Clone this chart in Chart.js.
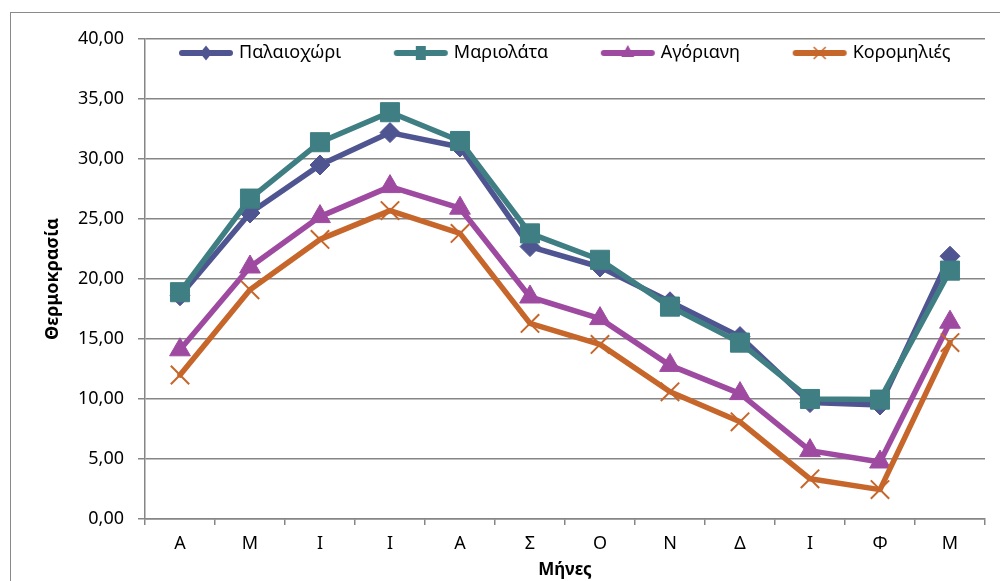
<!DOCTYPE html>
<html>
<head>
<meta charset="utf-8">
<title>Θερμοκρασία ανά μήνα</title>
<script src="https://cdn.jsdelivr.net/npm/chart.js@4"></script>
<style>
  html, body { margin: 0; padding: 0; background: #fff; overflow: hidden; }
  #wrap { position: relative; width: 1000px; height: 581px; overflow: hidden; }
  #frame { position: absolute; left: 10px; top: 12px; width: 1100px; height: 700px; border: 1px solid #8a8a8a; }
  #chart { position: absolute; left: 0; top: 0; }
</style>
</head>
<body>
<div id="wrap">
  <div id="frame"></div>
  <canvas id="chart" width="1000" height="581"></canvas>
</div>
<script>
// --- DADOS ---
const months = ['Α', 'Μ', 'Ι', 'Ι', 'Α', 'Σ', 'Ο', 'Ν', 'Δ', 'Ι', 'Φ', 'Μ'];
const seriesNames = ['Παλαιοχώρι', 'Μαριολάτα', 'Αγόριανη', 'Κορομηλιές'];

const palaioxori = [18.6, 25.5, 29.5, 32.2, 31.0, 22.7, 21.0, 18.1, 15.2, 9.7, 9.5, 21.9];
const mariolata  = [18.9, 26.7, 31.4, 33.9, 31.5, 23.8, 21.6, 17.7, 14.7, 10.0, 9.95, 20.7];
const agoriani   = [14.1, 21.0, 25.2, 27.7, 25.9, 18.5, 16.7, 12.8, 10.45, 5.7, 4.75, 16.4];
const koromilies = [12.0, 19.1, 23.3, 25.7, 23.8, 16.3, 14.55, 10.6, 8.1, 3.35, 2.45, 14.7];

const yTicks = { min: 0, max: 40, step: 5 };

// --- ESTILO ---
const COLORS = ['#4F5590', '#3F7F83', '#9F4AA1', '#C6662B'];
const GRID = '#868686';
const FONT = "'Noto Sans', 'DejaVu Sans', sans-serif";

// ícone da legenda: linha + marcador
function legendIcon(color, kind) {
    const c = document.createElement('canvas');
    c.width = 58; c.height = 22;
    const ctx = c.getContext('2d');
    const cx = 29, cy = 11;
    ctx.strokeStyle = color; ctx.fillStyle = color;
    ctx.lineWidth = 6; ctx.lineCap = 'round';
    ctx.beginPath(); ctx.moveTo(5, cy); ctx.lineTo(53, cy); ctx.stroke();
    ctx.lineWidth = 1.5; ctx.lineCap = 'butt';
    ctx.beginPath();
    if (kind === 'diamond') {
        ctx.moveTo(cx, cy - 7.5); ctx.lineTo(cx + 6, cy); ctx.lineTo(cx, cy + 7.5); ctx.lineTo(cx - 6, cy);
        ctx.closePath(); ctx.fill();
    } else if (kind === 'square') {
        ctx.rect(cx - 5, cy - 7, 10, 14); ctx.fill();
    } else if (kind === 'triangle') {
        ctx.moveTo(cx, cy - 8); ctx.lineTo(cx + 6.5, cy + 4); ctx.lineTo(cx - 6.5, cy + 4);
        ctx.closePath(); ctx.fill();
    } else {
        ctx.moveTo(cx - 6, cy - 6); ctx.lineTo(cx + 6, cy + 6);
        ctx.moveTo(cx + 6, cy - 6); ctx.lineTo(cx - 6, cy + 6);
        ctx.stroke();
    }
    return c;
}

const legendIcons = [
    legendIcon(COLORS[0], 'diamond'),
    legendIcon(COLORS[1], 'square'),
    legendIcon(COLORS[2], 'triangle'),
    legendIcon(COLORS[3], 'cross')
];

// legenda no topo sem ocupar altura; depois é deslocada para dentro do gráfico
const legendShift = {
    id: 'legendShift',
    beforeLayout(chart) {
        const lg = chart.legend;
        if (lg && !lg._noHeight) {
            const fit = lg.fit;
            lg.fit = function () { fit.call(this); this.height = 0; };
            lg._noHeight = true;
        }
    },
    afterLayout(chart) {
        const lg = chart.legend;
        if (!lg) return;
        const dx = 126.4 - lg.left;
        lg.left += dx; lg.right += dx;
        lg.top = -11.6;
        lg.height = 150;
        lg.bottom = lg.top + lg.height;
    }
};

const fmt = v => v.toFixed(2).replace('.', ',');

new Chart(document.getElementById('chart'), {
    type: 'line',
    data: {
        labels: months,
        datasets: [
            { label: seriesNames[0], data: palaioxori, borderColor: COLORS[0], backgroundColor: COLORS[0],
              pointStyle: 'rectRot', pointRadius: 10, pointBorderWidth: 1, order: 4 },
            { label: seriesNames[1], data: mariolata, borderColor: COLORS[1], backgroundColor: COLORS[1],
              pointStyle: 'rect', pointRadius: 13.5, pointBorderWidth: 1, order: 3 },
            { label: seriesNames[2], data: agoriani, borderColor: COLORS[2], backgroundColor: COLORS[2],
              pointStyle: 'triangle', pointRadius: 12, pointBorderWidth: 1, order: 2 },
            { label: seriesNames[3], data: koromilies, borderColor: COLORS[3], backgroundColor: COLORS[3],
              pointStyle: 'crossRot', pointRadius: 13, pointBorderWidth: 2, order: 1 }
        ]
    },
    options: {
        responsive: false,
        animation: false,
        devicePixelRatio: 1,
        events: [],
        elements: {
            line: { borderWidth: 5.5, tension: 0, borderJoinStyle: 'round', borderCapStyle: 'round' }
        },
        layout: { padding: { left: 10, top: 39, right: 2, bottom: 0 } },
        scales: {
            x: {
                type: 'category',
                offset: true,
                grid: { offset: true, drawOnChartArea: false, drawTicks: true, tickLength: 6, color: GRID, lineWidth: 1.5 },
                border: { color: GRID, width: 1.5 },
                ticks: { font: { family: FONT, size: 18 }, color: '#000', padding: 8, autoSkip: false, maxRotation: 0 },
                title: { display: true, text: 'Μήνες', color: '#000',
                         font: { family: FONT, size: 17, weight: 'bold' }, padding: { top: 0, bottom: 1 } },
                afterFit(s) { s.height = 62; }
            },
            y: {
                min: yTicks.min, max: yTicks.max,
                grid: { color: GRID, lineWidth: 1.5, tickLength: 7 },
                border: { color: GRID, width: 1.5 },
                ticks: { stepSize: yTicks.step, callback: v => fmt(v),
                         font: { family: FONT, size: 18 }, color: '#000', padding: 14 },
                title: { display: true, text: 'Θερμοκρασία', color: '#000',
                         font: { family: FONT, size: 18, weight: 'bold' }, padding: { top: 32, bottom: 0 } },
                afterFit(s) { s.width = 135; }
            }
        },
        plugins: {
            tooltip: { enabled: false },
            legend: {
                position: 'top',
                align: 'start',
                fullSize: true,
                labels: {
                    usePointStyle: true,
                    pointStyleWidth: 48,
                    padding: 55.6,
                    color: '#000',
                    font: { family: FONT, size: 18 },
                    generateLabels: chart => chart.data.datasets.map((ds, i) => ({
                        text: ds.label,
                        pointStyle: legendIcons[i],
                        fillStyle: ds.borderColor,
                        strokeStyle: ds.borderColor,
                        lineWidth: 0,
                        hidden: false,
                        datasetIndex: i,
                        fontColor: '#000'
                    }))
                }
            }
        }
    },
    plugins: [legendShift]
});
</script>
</body>
</html>
